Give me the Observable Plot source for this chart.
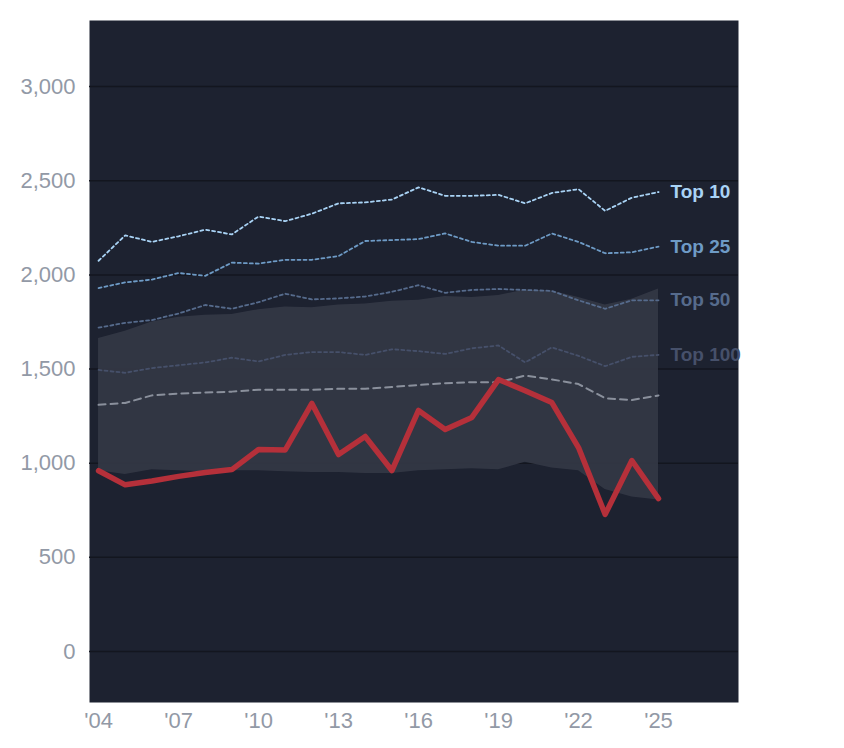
<!DOCTYPE html>
<html><head><meta charset="utf-8">
<script src="https://cdn.jsdelivr.net/npm/d3@7"></script>
<script src="https://cdn.jsdelivr.net/npm/@observablehq/plot@0.6"></script>
<style>body{margin:0;background:#fff;font-family:"Liberation Sans",Arial,sans-serif}</style>
</head><body><div id="c"></div>
<script>
const years = d3.range(2004, 2026);
const teamValues = [960,885,905,930,950,966,1073,1070,1317,1046,1142,961,1280,1179,1243,1444,1385,1322,1083,728,1014,812];
const bandUpper = [1662,1700,1750,1775,1785,1790,1815,1830,1825,1840,1845,1860,1865,1885,1880,1890,1920,1915,1880,1840,1870,1925];
const bandLower = [960,940,965,960,955,960,960,955,950,950,945,945,960,965,970,965,1005,975,960,860,820,805];
const top10 = [2075,2210,2175,2205,2240,2215,2310,2285,2325,2380,2385,2400,2465,2420,2420,2425,2380,2435,2455,2340,2410,2440];
const top25 = [1930,1960,1975,2010,1995,2065,2060,2080,2080,2100,2180,2185,2190,2220,2175,2155,2155,2220,2175,2115,2120,2150];
const top50 = [1720,1745,1760,1795,1840,1820,1855,1900,1870,1875,1885,1910,1945,1905,1920,1925,1920,1915,1865,1820,1865,1865];
const top100 = [1495,1480,1505,1520,1535,1560,1540,1575,1590,1590,1575,1605,1595,1580,1610,1625,1535,1615,1570,1515,1565,1575];
const median = [1310,1320,1360,1370,1375,1380,1390,1390,1390,1395,1395,1405,1415,1425,1430,1430,1465,1445,1420,1345,1335,1360];
const xTicks = [2004,2007,2010,2013,2016,2019,2022,2025];
const yTicks = [0,500,1000,1500,2000,2500,3000];
const tiers = [
  {name:"Top 10", vals:top10, color:"#a9d3f5"},
  {name:"Top 25", vals:top25, color:"#6e9bc6"},
  {name:"Top 50", vals:top50, color:"#566b8c"},
  {name:"Top 100", vals:top100, color:"#46506a"}
];
const band = years.map((y,i)=>({year:y, lo:bandLower[i], hi:bandUpper[i]}));
const team = years.map((y,i)=>({year:y, v:teamValues[i]}));
const med = years.map((y,i)=>({year:y, v:median[i]}));
const tierRows = tiers.flatMap(t=>years.map((y,i)=>({year:y, v:t.vals[i], tier:t.name, color:t.color})));
const tierLabels = tiers.map(t=>({year:2025, v:t.vals[t.vals.length-1], name:t.name, color:t.color}));

const chart = Plot.plot({
  width:844, height:748,
  marginLeft:89, marginRight:106, marginTop:20, marginBottom:46,
  style:{fontFamily:"Liberation Sans, Arial, sans-serif", background:"#fff"},
  x:{domain:[2003.66,2028], ticks:xTicks, tickFormat:d=>"'"+String(d).slice(2), tickSize:0, tickPadding:10, label:null},
  y:{domain:[-271,3351], ticks:yTicks, tickSize:0, tickPadding:14, label:null},
  marks:[
    Plot.frame({fill:"#1d2230", stroke:null}),
    Plot.ruleY(yTicks,{stroke:"#13161f", strokeWidth:1.5}),
    Plot.areaY(band,{x:"year", y1:"lo", y2:"hi", fill:"#343846", fillOpacity:0.9}),
    Plot.line(tierRows,{x:"year", y:"v", z:"tier", stroke:"color", strokeWidth:1.8, strokeDasharray:"3,3"}),
    Plot.line(med,{x:"year", y:"v", stroke:"#8a909c", strokeWidth:2, strokeDasharray:"7,5"}),
    Plot.line(team,{x:"year", y:"v", stroke:"#b5303a", strokeWidth:5.5}),
    Plot.text(tierLabels,{x:"year", y:"v", text:"name", fill:"color", dx:12, textAnchor:"start", fontSize:19, fontWeight:"bold"}),
    Plot.axisX({ticks:xTicks, tickFormat:d=>"'"+String(d).slice(2), tickSize:0, tickPadding:10, fontSize:22, fill:"#9299a6", label:null}),
    Plot.axisY({ticks:yTicks, tickSize:0, tickPadding:14, fontSize:22, fill:"#9299a6", label:null})
  ]
});
document.getElementById("c").appendChild(chart);
</script></body></html>
